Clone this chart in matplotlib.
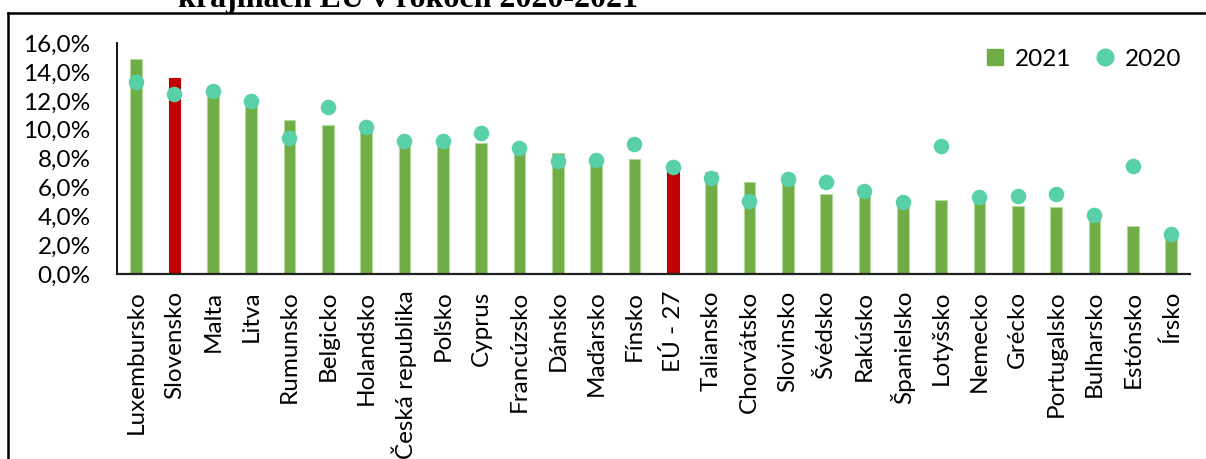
import matplotlib.pyplot as plt
import matplotlib.lines as mlines
from matplotlib.ticker import FuncFormatter

# krajiny zoradené podľa roku 2021
krajiny = ['Luxembursko', 'Slovensko', 'Malta', 'Litva', 'Rumunsko', 'Belgicko',
           'Holandsko', 'Česká republika', 'Poľsko', 'Cyprus', 'Francúzsko', 'Dánsko',
           'Maďarsko', 'Fínsko', 'EÚ - 27', 'Taliansko', 'Chorvátsko', 'Slovinsko',
           'Švédsko', 'Rakúsko', 'Španielsko', 'Lotyšsko', 'Nemecko', 'Grécko',
           'Portugalsko', 'Bulharsko', 'Estónsko', 'Írsko']
rok2021 = [14.9, 13.6, 12.5, 11.8, 10.7, 10.3, 10.1, 9.0, 9.1, 9.05, 8.5, 8.4,
           7.7, 7.95, 7.2, 7.1, 6.35, 6.35, 5.55, 5.45, 4.85, 5.15, 5.1, 4.7,
           4.65, 3.9, 3.3, 2.6]
rok2020 = [13.3, 12.45, 12.7, 12.0, 9.4, 11.55, 10.2, 9.25, 9.25, 9.8, 8.7, 7.8,
           7.9, 9.0, 7.45, 6.65, 5.05, 6.6, 6.35, 5.75, 5.0, 8.9, 5.35, 5.4,
           5.55, 4.1, 7.5, 2.8]
zvyraznene = ['Slovensko', 'EÚ - 27']

ZELENA = '#70AD47'
CERVENA = '#C00000'
TYRKYS = '#58D0A8'

plt.rcParams['font.family'] = ['Lato', 'DejaVu Sans']

fig = plt.figure(figsize=(12.06, 4.59), dpi=100)
ax = fig.add_axes([0.097, 0.403, 0.890, 0.503])

x = range(len(krajiny))
farby = [CERVENA if k in zvyraznene else ZELENA for k in krajiny]
okraje = [CERVENA if k in zvyraznene else '#B5D99C' for k in krajiny]
ax.bar(x, rok2021, width=0.31, color=farby, edgecolor=okraje, linewidth=0.8,
       label='2021', zorder=2)
ax.scatter(x, rok2020, s=125, color=TYRKYS, label='2020', zorder=3, linewidths=0)

ax.set_xlim(-0.5, len(krajiny) - 0.5)
ax.set_ylim(0, 16)
ax.set_yticks(range(0, 17, 2))
ax.yaxis.set_major_formatter(FuncFormatter(lambda v, p: f'{v:.1f}%'.replace('.', ',')))
ax.set_xticks(list(x))
ax.set_xticklabels(krajiny, rotation=90)
ax.tick_params(axis='both', length=0, labelsize=17.5, colors='black')
ax.tick_params(axis='y', pad=19)
ax.tick_params(axis='x', pad=12)

for s in ['top', 'right']:
    ax.spines[s].set_visible(False)
ax.spines['left'].set_linewidth(1.3)
ax.spines['bottom'].set_linewidth(1.6)
ax.spines['bottom'].set_color('#222222')

# legenda: najprv stĺpce 2021, potom body 2020
leg_stlpec = mlines.Line2D([], [], marker='s', linestyle='none', color=ZELENA,
                           markersize=11, label='2021')
leg_bod = mlines.Line2D([], [], marker='o', linestyle='none', color=TYRKYS,
                        markersize=12, label='2020')
ax.legend(handles=[leg_stlpec, leg_bod], loc='upper right',
          bbox_to_anchor=(1.012, 1.07), frameon=False, ncol=2, fontsize=17.5,
          handlelength=0.8, handletextpad=0.4, columnspacing=1.0)

# rámček okolo grafu
fig.add_artist(mlines.Line2D([8 / 1206, 8 / 1206], [0, 1 - 13 / 459],
                             color='black', linewidth=1.8))
fig.add_artist(mlines.Line2D([8 / 1206, 1], [1 - 13 / 459, 1 - 13 / 459],
                             color='black', linewidth=1.8))

fig.text(408 / 1206, 1 - 7 / 459, 'krajinách EÚ v rokoch 2020-2021', ha='center',
         va='baseline', fontsize=23, fontweight='bold', family='Liberation Serif')

fig.savefig('out.png', dpi=100)
